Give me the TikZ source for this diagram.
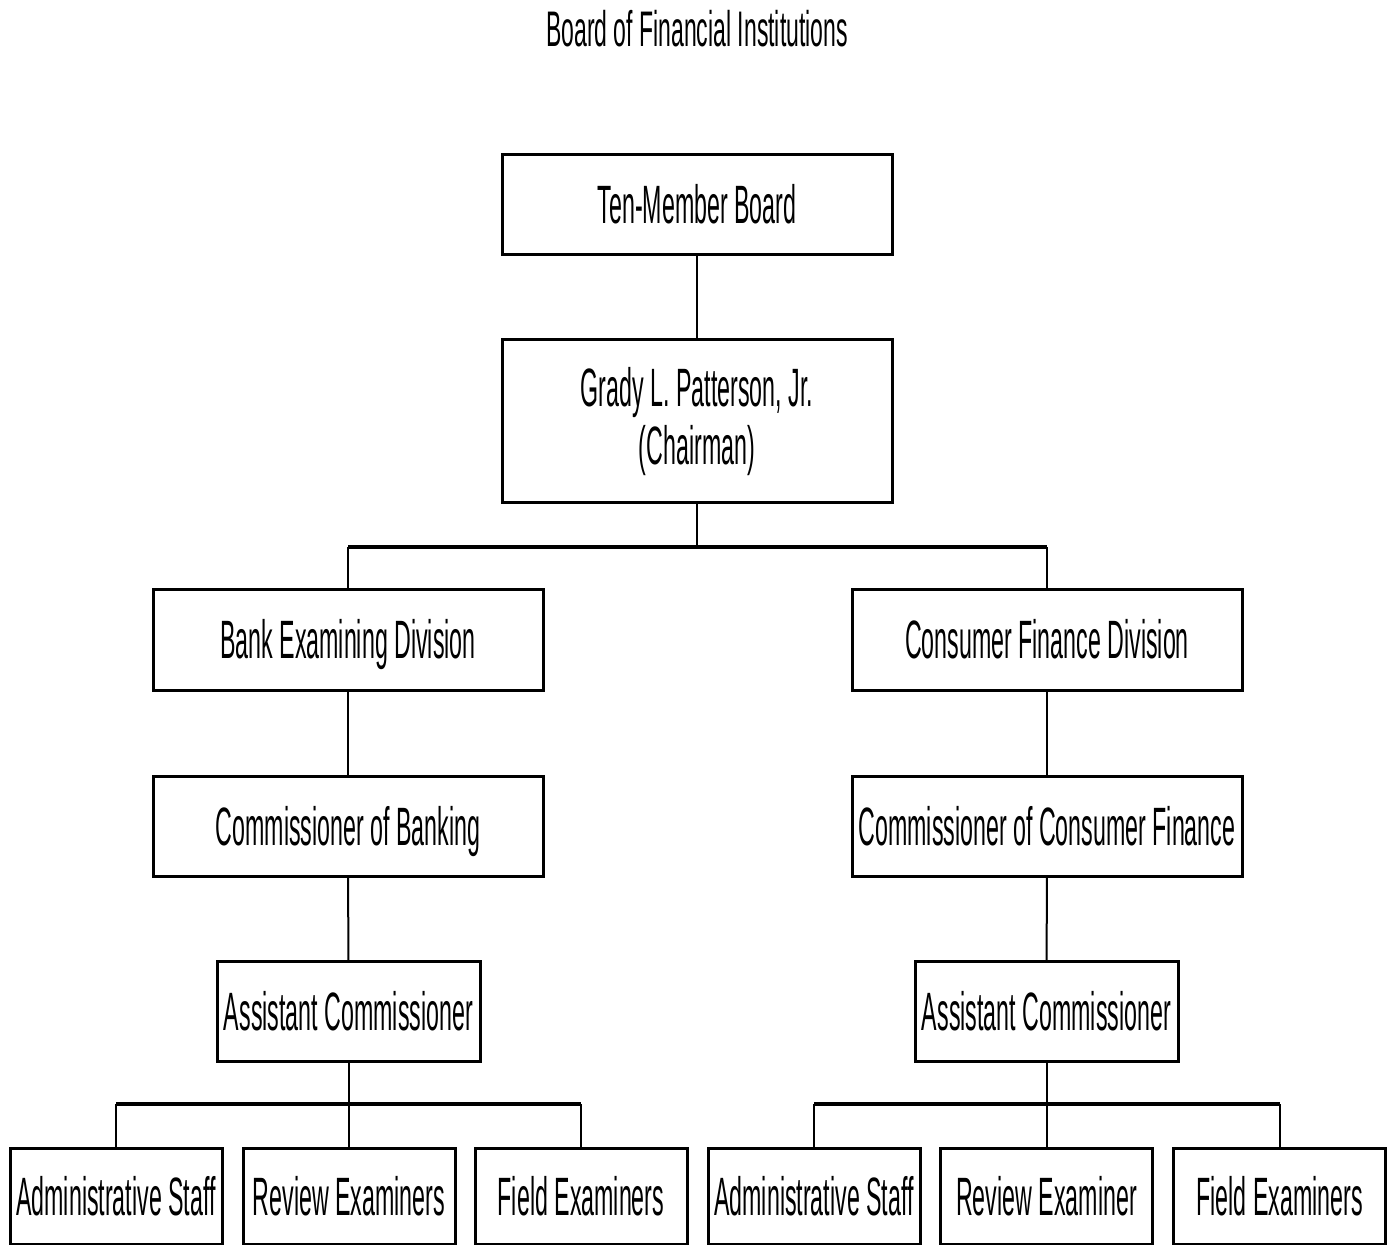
\documentclass[tikz,border=0pt]{standalone}
\usepackage{fontspec}
\newfontfamily\narrowfont[FakeStretch=0.43]{Liberation Sans}
\newfontfamily\titlefont[FakeStretch=0.46]{Liberation Sans}
\usetikzlibrary{positioning}

\begin{document}
\begin{tikzpicture}[
          x=0.5pt, y=-0.5pt,
          framebox/.style={rectangle, draw, line width=1.5pt, minimum width=195pt, minimum height=50pt, inner sep=0pt, align=center, font={\narrowfont\fontsize{27}{29}\selectfont}},
          orgbox/.style={framebox, text height=19pt, text depth=0pt},
          midbox/.style={orgbox, minimum width=131.5pt},
          leafbox/.style={orgbox, minimum width=106pt, minimum height=48pt},
          link/.style={line width=1pt},
          bus/.style={line width=1.6pt}
        ]
          \useasboundingbox (0,0) rectangle (1392,1245);
          \node[text height=18pt, text depth=0pt, inner sep=0pt, font={\titlefont\fontsize{25}{28}\selectfont}] (title) at (697,29) {Board of Financial Institutions};

          \node[orgbox] (board) at (697,204.5) {Ten-Member Board};
          \node[framebox, minimum height=81.5pt] (chair) at (697,421.5) {Grady L. Patterson, Jr.\\(Chairman)};

          \node[orgbox] (bankdiv) at (348,640) {Bank Examining Division};
          \node[orgbox] (cfdiv) at (1047,640) {Consumer Finance Division};
          \node[orgbox] (bankcomm) at (348,826) {Commissioner of Banking};
          \node[orgbox] (cfcomm) at (1047,826) {Commissioner of Consumer Finance};
          \node[midbox] (bankasst) at (348.5,1011.5) {Assistant Commissioner};
          \node[midbox] (cfasst) at (1046.5,1011.5) {Assistant Commissioner};

          \node[leafbox] (bankadmin) at (116,1196) {Administrative Staff};
          \node[leafbox] (bankreview) at (349,1196) {Review Examiners};
          \node[leafbox] (bankfield) at (581,1196) {Field Examiners};
          \node[leafbox] (cfadmin) at (814,1196) {Administrative Staff};
          \node[leafbox] (cfreview) at (1046.5,1196) {Review Examiner};
          \node[leafbox] (cffield) at (1279.5,1196) {Field Examiners};

          % top of the chart
          \coordinate (chairbus) at (697,547);
          \draw[link] (board) -- (chair);
          \draw[link] (chair) -- (chairbus);
          \draw[link] (bankdiv.north) -- (bankdiv.north |- chairbus);
          \draw[link] (cfdiv.north) -- (cfdiv.north |- chairbus);
          \draw[bus] (bankdiv.north |- chairbus) -- (cfdiv.north |- chairbus);

          % the two divisions
          \draw[link] (bankdiv) -- (bankcomm);
          \draw[link] (bankcomm) -- (bankasst);
          \draw[link] (cfdiv) -- (cfcomm);
          \draw[link] (cfcomm) -- (cfasst);

          % staff under each assistant
          \coordinate (bankbus) at (348.5,1104);
          \coordinate (cfbus) at (1046.5,1104);
          \draw[link] (bankasst) -- (bankbus);
          \draw[link] (cfasst) -- (cfbus);
          \foreach \leaf in {bankadmin, bankreview, bankfield}
            \draw[link] (\leaf.north) -- (\leaf.north |- bankbus);
          \foreach \leaf in {cfadmin, cfreview, cffield}
            \draw[link] (\leaf.north) -- (\leaf.north |- cfbus);
          \draw[bus] (bankadmin.north |- bankbus) -- (bankfield.north |- bankbus);
          \draw[bus] (cfadmin.north |- cfbus) -- (cffield.north |- cfbus);
        \end{tikzpicture}
\end{document}
